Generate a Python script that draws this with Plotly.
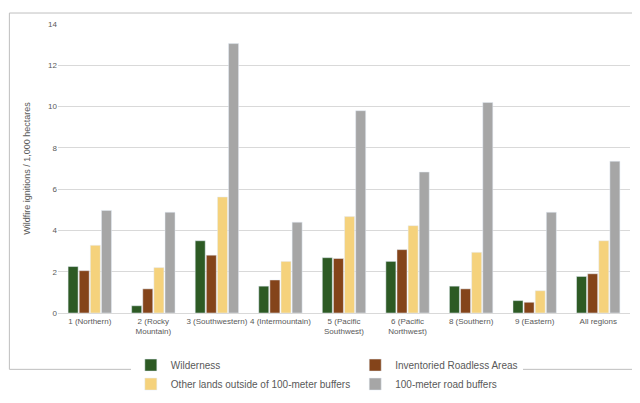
import plotly.graph_objects as go

regions = ["1 (Northern)", "2 (Rocky<br>Mountain)", "3 (Southwestern)", "4 (Intermountain)",
           "5 (Pacific<br>Southwest)", "6 (Pacific<br>Northwest)", "8 (Southern)", "9 (Eastern)",
           "All regions"]
wilderness = [2.25, 0.35, 3.5, 1.3, 2.68, 2.5, 1.3, 0.6, 1.77]
roadless = [2.05, 1.17, 2.8, 1.6, 2.64, 3.07, 1.17, 0.52, 1.9]
other_lands = [3.28, 2.2, 5.62, 2.5, 4.67, 4.23, 2.94, 1.08, 3.5]
road_buffers = [4.97, 4.88, 13.05, 4.4, 9.8, 6.83, 10.2, 4.88, 7.35]

series = [
    ("Wilderness", wilderness, "#2d5a24"),
    ("Inventoried Roadless Areas", roadless, "#84441a"),
    ("Other lands outside of 100-meter buffers", other_lands, "#f5d27c"),
    ("100-meter road buffers", road_buffers, "#a6a6a6"),
]

fig = go.Figure()
for name, vals, color in series:
    fig.add_bar(x=regions, y=vals, name=name, marker_color=color)

fig.update_layout(
    width=640, height=403,
    barmode="group", bargap=0.3, bargroupgap=0.1,
    plot_bgcolor="white", paper_bgcolor="white",
    font=dict(family="Liberation Sans, Arial", size=8, color="#595959"),
    margin=dict(l=50, r=18, t=14, b=66),
    legend=dict(orientation="h", x=0.47, xanchor="center", y=-0.13, yanchor="top",
                font=dict(size=10), itemwidth=30, tracegroupgap=0),
    yaxis=dict(title=dict(text="Wildfire ignitions / 1,000 hectares", font=dict(size=9)),
               range=[0, 14], dtick=2, gridcolor="#d9d9d9", zeroline=False),
    xaxis=dict(showline=True, linecolor="#d9d9d9", tickangle=0),
    shapes=[dict(type="rect", xref="paper", yref="paper", x0=-0.085, y0=-0.195, x1=1.028, y1=1.038,
                 line=dict(color="#bfbfbf", width=1))],
)
fig.write_html("out.html")
